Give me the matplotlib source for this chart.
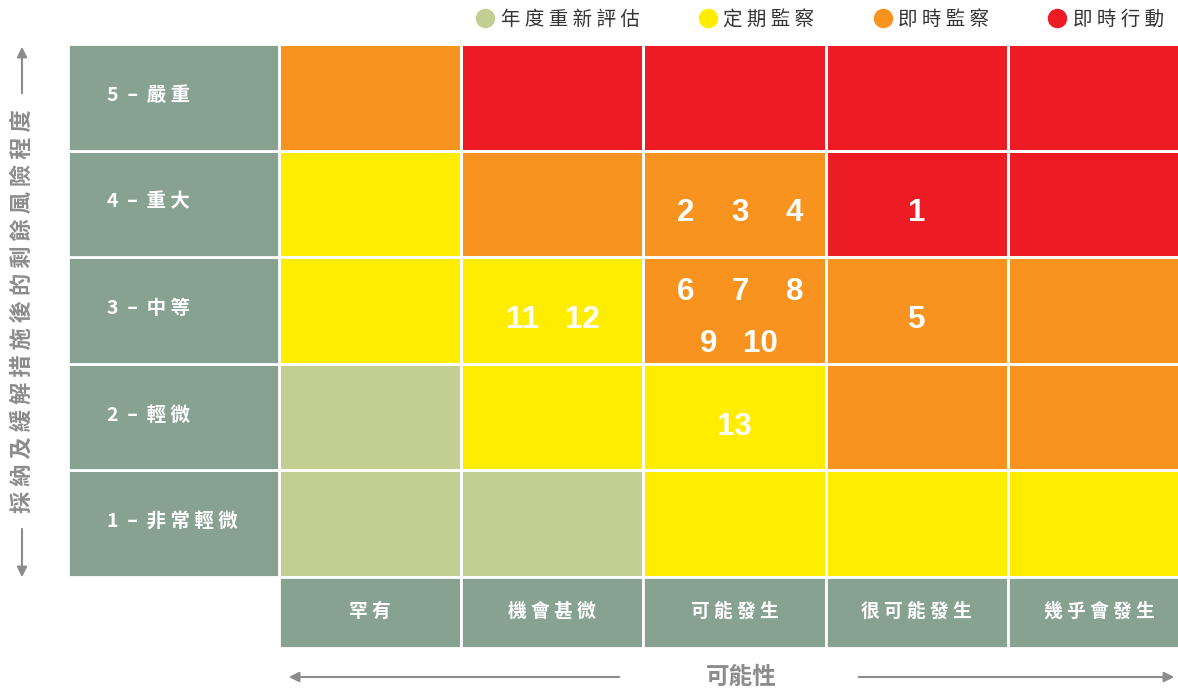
import matplotlib.pyplot as plt
import numpy as np
from matplotlib.colors import ListedColormap
from matplotlib.lines import Line2D

plt.rcParams['font.family'] = ['Noto Sans CJK TC', 'DejaVu Sans']

# Data
likelihood = ['罕有', '機會甚微', '可能發生', '很可能發生', '幾乎會發生']
severity = ['1 – 非常輕微', '2 – 輕微', '3 – 中等', '4 – 重大', '5 – 嚴重']
levels = ['年度重新評估', '定期監察', '即時監察', '即時行動']
level_colors = ['#C3CE93', '#FFED00', '#F7931E', '#ED1C24']

# risk level per cell, rows = severity 1..5, cols = likelihood 1..5
grid = np.array([
    [0, 0, 1, 1, 1],
    [0, 1, 1, 2, 2],
    [1, 1, 2, 2, 2],
    [1, 2, 2, 3, 3],
    [2, 3, 3, 3, 3],
])

# risk items: id, likelihood (1-5), severity (1-5)
risk_ids = [1, 2, 3, 4, 5, 6, 7, 8, 9, 10, 11, 12, 13]
risk_like = [4, 3, 3, 3, 4, 3, 3, 3, 3, 3, 2, 2, 3]
risk_sev = [4, 4, 4, 4, 3, 3, 3, 3, 3, 3, 3, 3, 2]

label_green = '#87A291'
gray = '#8C8C8C'


def spaced(s):
    return ' '.join(s)


def row_label(s):
    num, name = s.split(' – ')
    return num + '  –  ' + spaced(name)


fig = plt.figure(figsize=(11.78, 6.89), dpi=100)
W, H = 1178, 689


def frac(x0, y0, x1, y1):
    return [x0 / W, 1 - y1 / H, (x1 - x0) / W, (y1 - y0) / H]


# main matrix (right column is cut by the image edge)
ax = fig.add_axes(frac(279, 44, 1190, 577))
cmap = ListedColormap(level_colors)
ax.pcolormesh(np.arange(6) + 0.5, np.arange(6) + 0.5, grid, cmap=cmap,
              vmin=-0.5, vmax=3.5, edgecolors='white', linewidth=2)
ax.set_xlim(0.5, 5.5)
ax.set_ylim(0.5, 5.5)
ax.axis('off')

# place the item numbers inside each cell
cells = {}
for rid, lx, sy in zip(risk_ids, risk_like, risk_sev):
    cells.setdefault((lx, sy), []).append(rid)
for (lx, sy), ids in cells.items():
    if len(ids) <= 3:
        rows = [ids]
        dy = [-0.09]
    else:
        rows = [ids[:3], ids[3:]]
        dy = [0.17, -0.31]
    for row, d in zip(rows, dy):
        n = len(row)
        if n == 3:
            offs = (np.arange(n) - 1) * 0.3 + 0.03
        elif n == 2 and len(rows) == 1:
            offs = np.array([-0.5, 0.5]) * 0.33
        else:
            offs = (np.arange(n) - (n - 1) / 2) * 0.28
        for o, rid in zip(offs, row):
            ax.text(lx + o, sy + d, str(rid), ha='center', va='center',
                    color='white', fontsize=22.5, fontweight='bold',
                    family=['Liberation Sans'])

# row labels
axr = fig.add_axes(frac(68, 44, 279, 577))
axr.barh(np.arange(1, 6), 1, height=1, left=0, color=label_green,
         edgecolor='white', linewidth=2)
for i, s in enumerate(severity):
    axr.text(0.185, i + 1.02, row_label(s), ha='left', va='center',
             color='white', fontsize=14, fontweight='bold')
axr.set_xlim(0, 1)
axr.set_ylim(0.5, 5.5)
axr.axis('off')

# column labels
axc = fig.add_axes(frac(279, 577, 1190, 648))
axc.bar(np.arange(1, 6), 1, width=1, color=label_green,
        edgecolor='white', linewidth=2)
for i, s in enumerate(likelihood):
    axc.text(i + 1, 0.52, spaced(s), ha='center', va='center', color='white',
             fontsize=13.5, fontweight='bold')
axc.set_xlim(0.5, 5.5)
axc.set_ylim(0, 1)
axc.axis('off')

# legend
handles = [Line2D([], [], marker='o', linestyle='none', markersize=13,
                  markerfacecolor=c, markeredgecolor=c) for c in level_colors]
fig.legend(handles, [spaced(l) for l in levels], loc='upper right',
           bbox_to_anchor=(1.003, 1.012), ncol=4, frameon=False, fontsize=14,
           handlelength=1.0, handletextpad=0.3, columnspacing=3.0,
           labelcolor='#333333')

# axis titles with arrows
ov = fig.add_axes([0, 0, 1, 1])
ov.set_xlim(0, W)
ov.set_ylim(H, 0)
ov.axis('off')
arrow = dict(arrowstyle='-|>', color=gray, lw=1.5, mutation_scale=15)
ov.annotate('', xy=(22, 44), xytext=(22, 96), arrowprops=arrow)
ov.annotate('', xy=(22, 580), xytext=(22, 526), arrowprops=arrow)
ov.text(22, 311, spaced('採納及緩解措施後的剩餘風險程度'), rotation=90,
        ha='center', va='center', color=gray, fontsize=16, fontweight='bold')
ov.annotate('', xy=(286, 677), xytext=(622, 677), arrowprops=arrow)
ov.annotate('', xy=(1177, 677), xytext=(856, 677), arrowprops=arrow)
ov.text(741, 677, '可能性', ha='center', va='center', color=gray,
        fontsize=17, fontweight='bold')

plt.savefig('out.png', dpi=100)
